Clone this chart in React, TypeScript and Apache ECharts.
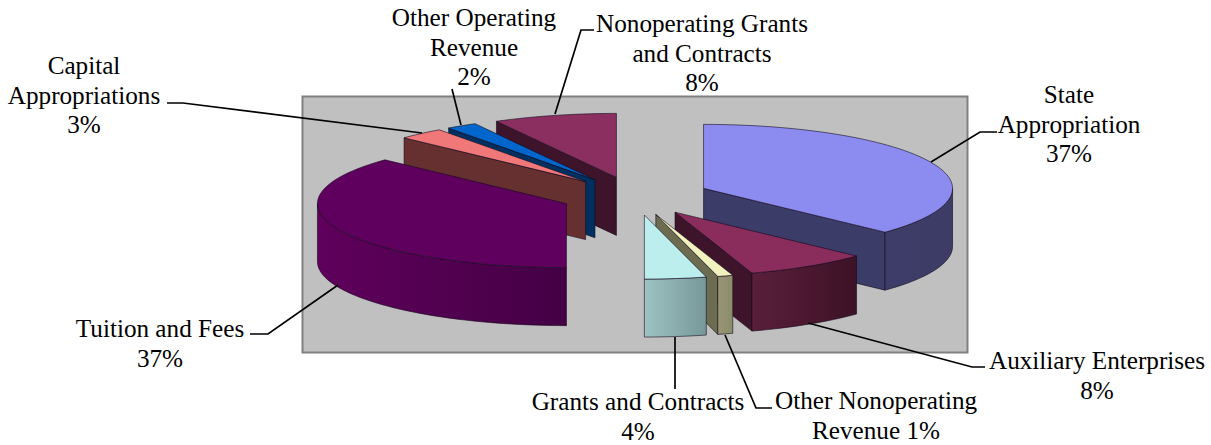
import React, { useEffect, useRef } from "react";
import * as echarts from "echarts";

const categories = ["State Appropriation", "Auxiliary Enterprises", "Other Nonoperating Revenue", "Grants and Contracts", "Tuition and Fees", "Capital Appropriations", "Other Operating Revenue", "Nonoperating Grants and Contracts"];
const shares = [37, 8, 1, 4, 37, 3, 2, 8];
const labelTexts = ["State\nAppropriation\n37%", "Auxiliary Enterprises\n8%", "Other Nonoperating\nRevenue 1%", "Grants and Contracts\n4%", "Tuition and Fees\n37%", "Capital\nAppropriations\n3%", "Other Operating\nRevenue\n2%", "Nonoperating Grants\nand Contracts\n8%"];
const labelX = [1069, 1097, 876, 638, 160, 84, 474, 702];
const labelY = [80, 346, 386, 387, 314, 51, 3, 9];
const leaders = [
  [[931, 162], [980, 132], [997, 132]],
  [[808, 323], [972, 367], [985, 367]],
  [[725, 335], [756, 408], [772, 408]],
  [[675, 337], [675, 389]],
  [[338, 285], [268, 334], [250, 334]],
  [[422, 133], [183, 103], [167, 103]],
  [[461, 125], [452, 89]],
  [[555, 114], [581, 30], [594, 30]],
];
const topColors = ["#8C8CF0", "#8A2C5C", "#F2F2BE", "#BDEEEE", "#5F005F", "#F07878", "#0066CC", "#8A2F5F"];
const cutColors = ["#3C3C68", "#3E142A", "#6C6C50", "#7F9F9F", "#480048", "#663030", "#00305F", "#3E142A"];
const sideFrom = ["#3D3D69", "#5A1F3A", "#969674", "#9CC2C2", "#5F005C", "#663030", "#00305F", "#3E142A"];
const sideTo = ["#3C3C66", "#3C1226", "#8C8C6A", "#779898", "#440044", "#663030", "#00305F", "#3E142A"];
const drawRank = [4, 5, 6, 7, 3, 2, 1, 0];

const CX = 635, CY = 196, RX = 249, RY = 64, DEPTH = 58, EXPLODE = 0.3;
const total = shares.reduce((a, b) => a + b, 0);
const rad = (d: number) => (d * Math.PI) / 180;

function renderSlice(params: any, api: any) {
  const i = params.dataIndex;
  const before = shares.slice(0, i).reduce((a, b) => a + b, 0);
  const t1 = (before / total) * 360;
  const t2 = t1 + (api.value(0) / total) * 360;
  const mid = rad((t1 + t2) / 2);
  const cx = CX + EXPLODE * RX * Math.sin(mid);
  const cy = CY - EXPLODE * RY * Math.cos(mid);
  const pt = (t: number, dy = 0) => [cx + RX * Math.sin(rad(t)), cy - RY * Math.cos(rad(t)) + dy];
  const arc = (a: number, b: number, dy = 0) => {
    const n = Math.max(2, Math.ceil(Math.abs(b - a) / 2));
    return Array.from({ length: n + 1 }, (_, k) => pt(a + ((b - a) * k) / n, dy));
  };
  const edge = { stroke: "rgba(20,10,30,0.75)", lineWidth: 0.8 };
  const z = drawRank[i] * 10;
  const children: any[] = [];
  const cutT = t1 >= 180 ? t1 : t2;
  if (cutT % 180 !== 0) {
    const p = pt(cutT);
    children.push({
      type: "polygon", z2: z + 1,
      shape: { points: [[cx, cy], p, [p[0], p[1] + DEPTH], [cx, cy + DEPTH]] },
      style: { fill: cutColors[i], ...edge },
    });
  }
  const a = Math.max(t1, 90), b = Math.min(t2, 270);
  if (b > a) {
    children.push({
      type: "polygon", z2: z + 2,
      shape: { points: [...arc(a, b), ...arc(b, a, DEPTH)] },
      style: {
        fill: new echarts.graphic.LinearGradient(0, 0, 1, 0, [
          { offset: 0, color: sideFrom[i] },
          { offset: 1, color: sideTo[i] },
        ]),
        ...edge,
      },
    });
  }
  children.push({
    type: "polygon", z2: z + 3,
    shape: { points: [[cx, cy], ...arc(t1, t2)] },
    style: { fill: topColors[i], ...edge },
  });
  return { type: "group", children };
}

export default function App() {
  const ref = useRef<HTMLDivElement>(null);
  useEffect(() => {
    const chart = echarts.init(ref.current!, null, { renderer: "svg" });
    chart.setOption({
      animation: false,
      backgroundColor: "#fff",
      graphic: [
        { type: "rect", z: -1, shape: { x: 302.5, y: 96.5, width: 665, height: 256 }, style: { fill: "#C0C0C0", stroke: "#808080", lineWidth: 2 } },
        ...leaders.map((pts) => ({ type: "polyline", z: 5, shape: { points: pts }, style: { fill: "none", stroke: "#000", lineWidth: 1.7 } })),
        ...labelTexts.map((t, i) => ({
          type: "text", z: 6, x: labelX[i], y: labelY[i],
          style: { text: t, fill: "#000", font: '25.2px "Liberation Serif"', lineHeight: 29.4, align: "center", verticalAlign: "top" },
        })),
      ],
      series: [{
        type: "custom", coordinateSystem: "none", silent: true, z: 2,
        data: shares.map((v, i) => ({ name: categories[i], value: [v] })),
        renderItem: renderSlice,
      }],
    });
    return () => chart.dispose();
  }, []);
  return <div ref={ref} style={{ position: "absolute", left: 0, top: 0, width: 1211, height: 445 }} />;
}
